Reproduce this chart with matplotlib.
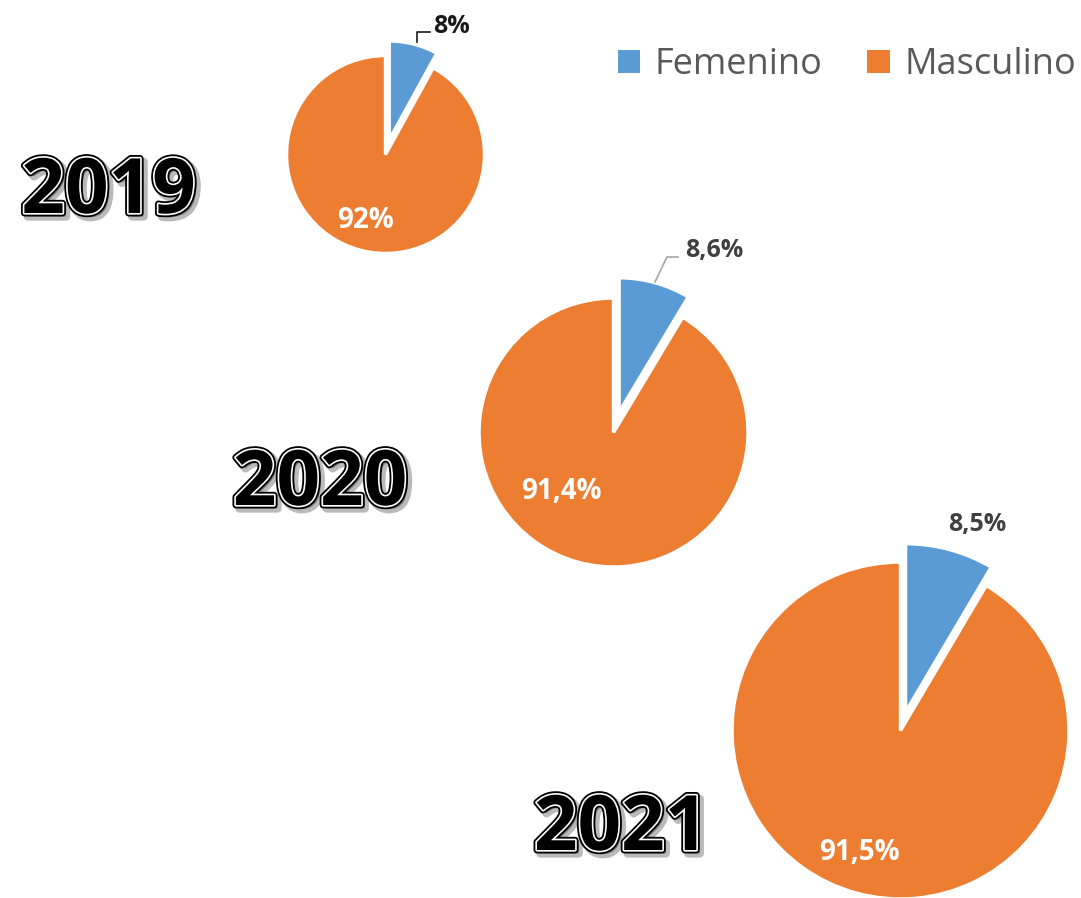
# Three exploded pies (Femenino / Masculino) for 2019-2021, growing in size

import matplotlib.pyplot as plt
import matplotlib.patheffects as pe

years = ['2019', '2020', '2021']
femenino = [8, 8.6, 8.5]
masculino = [92, 91.4, 91.5]
series_names = ['Femenino', 'Masculino']

BLUE = '#5B9BD5'
ORANGE = '#ED7D31'
W, H = 1081, 898

# layout in pixels (y measured from the top)
centers = [(385.5, 154.5), (613.5, 432.5), (900.5, 730.5)]
radii = [99, 134.5, 168.5]
explode = [15, 21, 19]
inner_off = [(-19.5, 73.5), (-52.5, 66.5), (-41.5, 129.5)]
outer_off = [(65.5, -121.5), (100.5, -175.5), (77, -199.5)]
outer_color = ['#1a1a1a', '#404040', '#404040']
leaders = [
    ([(31.2, -112.5), (31.2, -122.5), (44.5, -122.5)], '#1a1a1a'),
    ([(41.5, -150.5), (53.5, -175.5), (64.5, -175.5)], '#a6a6a6'),
    None,
]
year_pos = [(108.5, 213), (320, 505), (621, 850)]


def fmt(v):
    return f'{v:g}'.replace('.', ',') + '%'


def create():
    plt.rcParams['font.family'] = ['Open Sans', 'DejaVu Sans']
    fig = plt.figure(figsize=(W / 100, H / 100), dpi=100)
    ax = fig.add_axes([0, 0, 1, 1])

    handles = None
    for i in range(len(years)):
        cx, cy = centers[i]
        r = radii[i]
        wedges, _ = ax.pie([femenino[i], masculino[i]], colors=[BLUE, ORANGE],
                           startangle=90, counterclock=False,
                           center=(cx, H - cy), radius=r,
                           explode=(explode[i], 0),
                           wedgeprops=dict(edgecolor='white', linewidth=2.5))
        if handles is None:
            handles = wedges

        dx, dy = inner_off[i]
        ax.text(cx + dx, H - (cy + dy), fmt(masculino[i]), color='white',
                fontsize=20, fontweight='bold', ha='center', va='baseline')
        dx, dy = outer_off[i]
        ax.text(cx + dx, H - (cy + dy), fmt(femenino[i]), color=outer_color[i],
                fontsize=18, fontweight='bold', ha='center', va='baseline')

        if leaders[i] is not None:
            pts, col = leaders[i]
            ax.plot([cx + p[0] for p in pts], [H - (cy + p[1]) for p in pts],
                    color=col, lw=1.2)

        yx, yy = year_pos[i]
        ax.text(yx, H - yy, years[i], fontsize=55, fontweight='bold',
                color='black', ha='center', va='baseline',
                path_effects=[
                    pe.Stroke(linewidth=6, foreground='#8c8c8c', alpha=0.6, offset=(2.5, -2.5)),
                    pe.Stroke(linewidth=5, foreground='black'),
                    pe.Stroke(linewidth=2.4, foreground='white'),
                    pe.Normal()])

    ax.set_xlim(0, W)
    ax.set_ylim(0, H)
    ax.set_aspect('equal')
    ax.axis('off')

    leg = fig.legend(handles, series_names, loc='center right',
                     bbox_to_anchor=(1076 / W, 1 - 65 / H), ncol=2,
                     frameon=False, fontsize=26, labelcolor='#595959',
                     handlelength=0.62, handleheight=0.62, handletextpad=0.4,
                     columnspacing=1.25, borderpad=0, borderaxespad=0)
    for h in leg.legend_handles:
        h.set_edgecolor('none')

    fig.savefig('out.png', dpi=100)


if __name__ == '__main__':
    create()
